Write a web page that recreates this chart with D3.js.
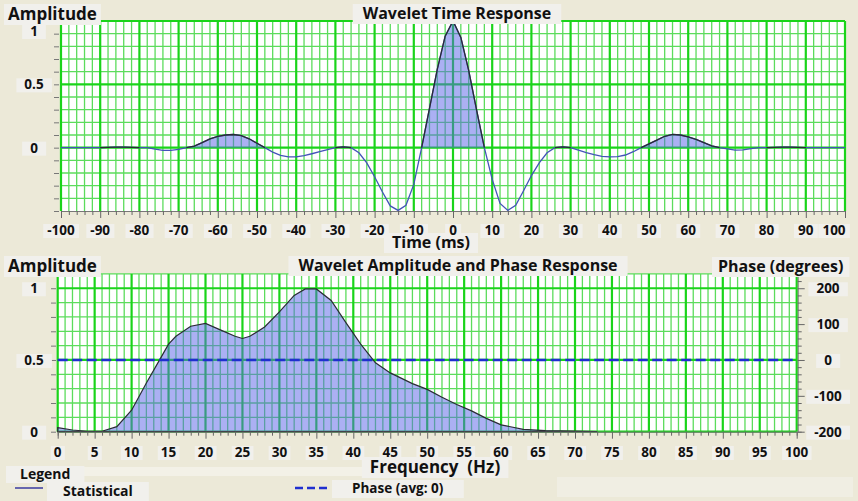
<!DOCTYPE html>
<html>
<head>
<meta charset="utf-8">
<script src="https://cdn.jsdelivr.net/npm/d3@7"></script>
<style>
    body { margin: 0; background: #ece9d8; }
    text { font-family: "Open Sans", sans-serif; font-weight: 700; fill: #111; }
</style>
</head>
<body>
<svg id="chart" width="858" height="501"></svg>
<script>
// wavelet time response, sampled every 2 ms
const timeMs = [-100, -98, -96, -94, -92, -90, -88, -86, -84, -82, -80, -78, -76, -74, -72, -70, -68, -66, -64, -62,
    -60, -58, -56, -54, -52, -50, -48, -46, -44, -42, -40, -38, -36, -34, -32, -30, -28, -26, -24, -22,
    -20, -18, -16, -14, -12, -10, -8, -6, -4, -2, 0, 2, 4, 6, 8, 10, 12, 14, 16, 18,
    20, 22, 24, 26, 28, 30, 32, 34, 36, 38, 40, 42, 44, 46, 48, 50, 52, 54, 56, 58,
    60, 62, 64, 66, 68, 70, 72, 74, 76, 78, 80, 82, 84, 86, 88, 90, 92, 94, 96, 98, 100];
const timeAmp = [0, 0, 0, 0, 0, 0, 0.003, 0.004, 0.004, 0.002, 0, 0, -0.012, -0.022, -0.022, -0.014, 0, 0.012, 0.04, 0.07,
    0.09, 0.1, 0.104, 0.095, 0.07, 0.035, 0, -0.035, -0.06, -0.073, -0.072, -0.063, -0.048, -0.032, -0.015, 0, 0.006, 0, -0.04, -0.12,
    -0.23, -0.35, -0.46, -0.495, -0.455, -0.29, 0, 0.31, 0.62, 0.88, 1.0, 0.87, 0.61, 0.3, 0, -0.25, -0.44, -0.495, -0.455, -0.34,
    -0.22, -0.12, -0.04, 0, 0.006, 0, -0.02, -0.04, -0.055, -0.068, -0.072, -0.07, -0.058, -0.032, 0, 0.03, 0.06, 0.09, 0.105, 0.1,
    0.085, 0.065, 0.04, 0.015, 0, -0.01, -0.02, -0.018, -0.008, 0, 0, 0.002, 0.004, 0.004, 0.003, 0, 0, 0, 0, 0, 0];

// amplitude spectrum
const freqHz = [0, 2, 4, 6, 8, 10, 12, 14, 15, 16, 18, 20, 22, 24, 25, 26, 28, 30, 32, 33.5,
    35, 37, 39, 41, 43, 45, 48, 50, 52, 54, 56, 58, 60, 63, 66, 70, 73];
const freqAmp = [0.028, 0.012, 0.003, 0.003, 0.035, 0.15, 0.34, 0.52, 0.61, 0.665, 0.735, 0.755, 0.71, 0.665, 0.65, 0.665, 0.73, 0.835, 0.95, 0.995,
    0.995, 0.915, 0.76, 0.61, 0.48, 0.41, 0.335, 0.295, 0.24, 0.19, 0.145, 0.093, 0.048, 0.016, 0.008, 0.004, 0];

// phase (flat)
const phaseHz = [0, 100];
const phaseDeg = [0, 0];

const timeTicks = [-100, -90, -80, -70, -60, -50, -40, -30, -20, -10, 0, 10, 20, 30, 40, 50, 60, 70, 80, 90, 100];
const ampTicks = [0, 0.5, 1];
const freqTicks = [0, 5, 10, 15, 20, 25, 30, 35, 40, 45, 50, 55, 60, 65, 70, 75, 80, 85, 90, 95, 100];
const phaseTicks = [-200, -100, 0, 100, 200];

const GRID_MAJOR = "#1ad41a",
    GRID_MINOR = "#5cdc5c",
    LABEL_BOX = "#f1f0ec",
    FILL = "rgb(88,98,232)";

const svg = d3.select("#chart");

// layers: plots, then label boxes, then label texts on top
const topPanel = svg.append("g");
const botPanel = svg.append("g");
const leg = svg.append("g");
const boxLayer = svg.append("g");
const textLayer = svg.append("g");

function boxedText(txt, x, y, o) {
    o = o || {};
    const r = boxLayer.append("rect").attr("fill", o.box || LABEL_BOX);
    const t = textLayer.append("text")
        .attr("x", x)
        .attr("y", y)
        .attr("text-anchor", o.anchor || "middle")
        .style("font-size", (o.size || 13.5) + "px")
        .style("white-space", "pre")
        .text(txt);
    const b = t.node().getBBox();
    const px = o.padX == null ? 3 : o.padX, py = o.padY == null ? 0 : o.padY;
    r.attr("x", b.x - px).attr("y", b.y + 3 - py)
        .attr("width", b.width + 2 * px).attr("height", b.height - 4 + 2 * py);
    return t;
}

function drawGrid(g, xs, ys, xMinor, xMajor, yMinor, yMajor) {
    const [x0, x1] = xs.range(), [y0, y1] = ys.range();
    g.append("rect")
        .attr("x", x0).attr("y", y1)
        .attr("width", x1 - x0).attr("height", y0 - y1)
        .attr("fill", "#fff");
    g.selectAll(".vmin").data(xMinor).enter().append("line")
        .attr("x1", d => xs(d)).attr("x2", d => xs(d))
        .attr("y1", y0).attr("y2", y1)
        .attr("stroke", GRID_MINOR).attr("stroke-width", 1.3);
    g.selectAll(".hmin").data(yMinor).enter().append("line")
        .attr("y1", d => ys(d)).attr("y2", d => ys(d))
        .attr("x1", x0).attr("x2", x1)
        .attr("stroke", GRID_MINOR).attr("stroke-width", 1.3);
    g.selectAll(".vmaj").data(xMajor).enter().append("line")
        .attr("x1", d => xs(d)).attr("x2", d => xs(d))
        .attr("y1", y0).attr("y2", y1)
        .attr("stroke", GRID_MAJOR).attr("stroke-width", 2.2);
    g.selectAll(".hmaj").data(yMajor).enter().append("line")
        .attr("y1", d => ys(d)).attr("y2", d => ys(d))
        .attr("x1", x0).attr("x2", x1)
        .attr("stroke", GRID_MAJOR).attr("stroke-width", 2.2);
}

function styleAxis(sel, majorEvery, majorLen, minorLen, horiz) {
    sel.selectAll("path.domain").attr("stroke", "#777");
    sel.selectAll(".tick line").attr("stroke", "#666")
        .each(function (d) {
            const major = Math.abs(d / majorEvery - Math.round(d / majorEvery)) < 1e-6;
            const len = major ? majorLen : minorLen;
            d3.select(this).attr(horiz ? "y2" : "x2", len);
        });
}

/* ---------------- top panel: time response ---------------- */
const tx = d3.scaleLinear().domain([-100, 100]).range([61, 845]);
const ty = d3.scaleLinear().domain([-0.5, 1]).range([211, 21]);

drawGrid(topPanel, tx, ty,
    d3.range(-100, 101, 2).filter(v => v % 10 !== 0),
    timeTicks,
    d3.range(-4, 11).map(v => v / 10).filter(v => v !== 0 && v !== 0.5 && v !== 1),
    [0, 0.5, 1]);

const timeData = timeMs.map((t, i) => ({t: t, a: timeAmp[i]}));

topPanel.append("path")
    .datum(timeData)
    .attr("fill", FILL).attr("fill-opacity", 0.5)
    .attr("d", d3.area()
        .x(d => tx(d.t))
        .y0(ty(0))
        .y1(d => ty(Math.max(0, d.a))));

topPanel.append("path")
    .datum(timeData)
    .attr("fill", "none").attr("stroke", "#4353b8").attr("stroke-width", 1.3)
    .attr("d", d3.line().x(d => tx(d.t)).y(d => ty(d.a)));

topPanel.append("path")
    .datum(timeData)
    .attr("fill", "none").attr("stroke", "#2b2b35").attr("stroke-width", 1.3)
    .attr("d", d3.line()
        .defined((d, i) => d.a > 0 || (timeAmp[i - 1] > 0) || (timeAmp[i + 1] > 0))
        .x(d => tx(d.t)).y(d => ty(Math.max(0, d.a))));

topPanel.append("g")
    .attr("transform", "translate(0," + 211 + ")")
    .call(d3.axisBottom(tx).tickValues(d3.range(-100, 101, 2)).tickSize(4).tickFormat(""))
    .call(s => styleAxis(s, 10, 7, 4, true));

topPanel.append("g")
    .attr("transform", "translate(" + 59 + ",0)")
    .call(d3.axisLeft(ty).tickValues(d3.range(-5, 11).map(v => v / 10)).tickSize(5).tickFormat(""))
    .call(s => { s.select("path.domain").remove(); s.selectAll(".tick line").attr("stroke", "#777"); });

timeTicks.forEach(v => {
    const cx = Math.max(58, Math.min(834, tx(v)));
    boxedText(String(v), cx, 235, {size: 13.5, padX: 4});
});
ampTicks.forEach(v => {
    const cy = Math.max(31, ty(v));
    boxedText(String(v), 34, cy + 5, {size: 13.5, padX: 8});
});

boxedText("Amplitude", 8, 20, {anchor: "start", size: 17, padX: 4, padY: 1});
boxedText("Wavelet Time Response", 457, 19, {size: 16, padX: 10, padY: 1});
boxedText("Time (ms)", 431, 248, {size: 16, padX: 8, padY: 1});

/* ---------------- bottom panel: amplitude & phase ---------------- */
const bx = d3.scaleLinear().domain([0, 100]).range([57.7, 796.7]);
const by = d3.scaleLinear().domain([0, 1.1]).range([431.7, 273.9]);
const py = d3.scaleLinear().domain([-200, 240]).range([431.7, 273.9]);

drawGrid(botPanel, bx, by,
    d3.range(0, 101, 1).filter(v => v % 5 !== 0),
    freqTicks,
    d3.range(1, 12).map(v => v / 10).filter(v => v !== 0.5 && v !== 1),
    [0, 0.5, 1]);

const freqData = freqHz.map((f, i) => ({f: f, a: freqAmp[i]}));

botPanel.append("path")
    .datum(freqData)
    .attr("fill", FILL).attr("fill-opacity", 0.5)
    .attr("stroke", "#2b2b35").attr("stroke-width", 1.2)
    .attr("d", d3.area().x(d => bx(d.f)).y0(by(0)).y1(d => by(d.a)));

botPanel.append("path")
    .datum(phaseHz.map((f, i) => ({f: f, p: phaseDeg[i]})))
    .attr("fill", "none").attr("stroke", "#1f2fcf").attr("stroke-width", 2.5)
    .attr("stroke-dasharray", "10,4.5")
    .attr("d", d3.line().x(d => bx(d.f)).y(d => py(d.p)));

botPanel.append("g")
    .attr("transform", "translate(0," + 431.7 + ")")
    .call(d3.axisBottom(bx).tickValues(d3.range(0, 101, 1)).tickSize(4).tickFormat(""))
    .call(s => styleAxis(s, 5, 7, 4, true));

botPanel.append("g")
    .attr("transform", "translate(" + 56 + ",0)")
    .call(d3.axisLeft(by).tickValues(d3.range(0, 12).map(v => v / 10)).tickSize(5).tickFormat(""))
    .call(s => { s.select("path.domain").remove(); s.selectAll(".tick line").attr("stroke", "#777"); });

botPanel.append("g")
    .attr("transform", "translate(" + 797.7 + ",0)")
    .call(d3.axisRight(py).tickValues(d3.range(-200, 241, 20)).tickSize(4).tickFormat(""))
    .call(s => styleAxis(s, 100, 7, 4, false));

freqTicks.forEach(v => boxedText(String(v), bx(v), 457, {size: 13.5, padX: 3}));
ampTicks.forEach(v => boxedText(String(v), 34, by(v) + 5, {size: 13.5, padX: 8}));
phaseTicks.forEach(v => boxedText(String(v), 828, py(v) + 5, {size: 13.5, padX: 8}));

boxedText("Amplitude", 8, 272, {anchor: "start", size: 17, padX: 4, padY: 1});
boxedText("Wavelet Amplitude and Phase Response", 458, 271, {size: 16, padX: 10, padY: 1});
boxedText("Phase (degrees)", 718, 272, {anchor: "start", size: 16, padX: 6, padY: 1});
boxedText("Frequency  (Hz)", 435, 473, {size: 17, padX: 8, padY: 1});

/* ---------------- legend ---------------- */
leg.append("rect").attr("x", 80).attr("y", 467).attr("width", 285).attr("height", 9).attr("fill", "#f3f1e7");
leg.append("rect").attr("x", 557).attr("y", 477).attr("width", 296).attr("height", 20).attr("fill", "#f0eee3");
boxedText("Legend", 20, 479, {anchor: "start", size: 14, padX: 14, padY: 1});
leg.append("line").attr("x1", 15).attr("x2", 43).attr("y1", 488).attr("y2", 488)
    .attr("stroke", "#3a3aa0").attr("stroke-width", 1.5);
boxedText("Statistical", 63, 496, {anchor: "start", size: 14, padX: 16, padY: 2});
leg.append("line").attr("x1", 295).attr("x2", 327).attr("y1", 488).attr("y2", 488)
    .attr("stroke", "#1f2fcf").attr("stroke-width", 2.5).attr("stroke-dasharray", "8,4");
boxedText("Phase (avg: 0)", 352, 493, {anchor: "start", size: 13.5, padX: 20, padY: 2});
</script>
</body>
</html>
